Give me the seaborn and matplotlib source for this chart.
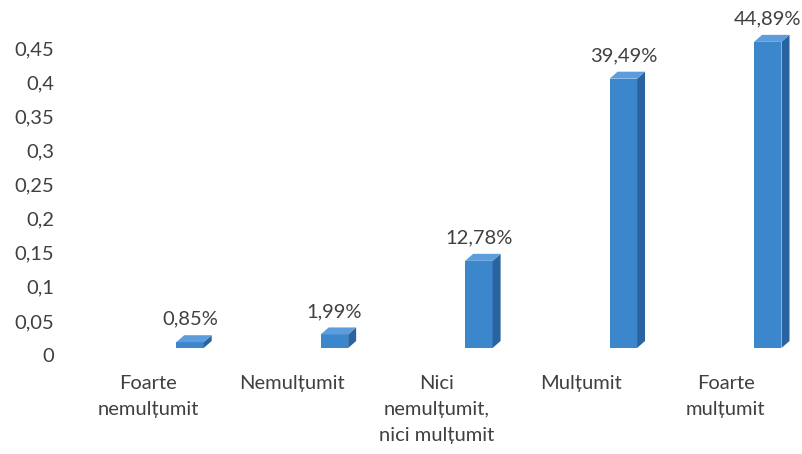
import matplotlib
matplotlib.use("Agg")
import matplotlib.pyplot as plt
import matplotlib.transforms as mtransforms
from matplotlib.patches import Polygon
import seaborn as sns
import pandas as pd

categories = ["Foarte\nnemulțumit", "Nemulțumit", "Nici\nnemulțumit,\nnici mulțumit",
              "Mulțumit", "Foarte\nmulțumit"]
values = [0.0085, 0.0199, 0.1278, 0.3949, 0.4489]
value_labels = ["0,85%", "1,99%", "12,78%", "39,49%", "44,89%"]
yticks = [0, 0.05, 0.1, 0.15, 0.2, 0.25, 0.3, 0.35, 0.4, 0.45]
ytick_labels = ["0", "0,05", "0,1", "0,15", "0,2", "0,25", "0,3", "0,35", "0,4", "0,45"]

sns.set_theme(style="white")
plt.rcParams["font.family"] = ["Lato", "DejaVu Sans"]

FRONT = "#3C86CC"
SIDE = "#2A64A0"
TOP = "#5E9DDB"
TXT = "#404040"
FS = 14.5

fig = plt.figure(figsize=(8.03, 4.54), dpi=100)
ax = fig.add_axes([61.3 / 803, 99 / 454, 736.7 / 803, 0.47 * 682 / 454])

df = pd.DataFrame({"cat": categories, "val": values})
sns.barplot(data=df, x="cat", y="val", color=FRONT, saturation=1, width=0.19, ax=ax)

ax.set_xlim(-0.6, 4.5)
ax.set_ylim(0, 0.47)

# pixel geometry of the pseudo-3D effect
unit_x = 144.5   # px per category
unit_y = 682.0   # px per value unit
shift_px = (42, 7)       # bars sit deeper than the category labels
depth_px = (8, 7)        # depth of the side/top faces
ddx = depth_px[0] / unit_x
ddy = depth_px[1] / unit_y

shift = mtransforms.ScaledTranslation(shift_px[0] / 100, shift_px[1] / 100, fig.dpi_scale_trans)
tr = ax.transData + shift

for i, p in enumerate(ax.patches):
    x0 = p.get_x()
    w = p.get_width()
    h = p.get_height()
    x1 = x0 + w
    p.set_transform(tr)
    p.set_edgecolor("none")
    side = Polygon([(x1, 0), (x1 + ddx, ddy), (x1 + ddx, h + ddy), (x1, h)],
                   closed=True, facecolor=SIDE, edgecolor="none", transform=tr, zorder=3)
    top = Polygon([(x0, h), (x0 + ddx, h + ddy), (x1 + ddx, h + ddy), (x1, h)],
                  closed=True, facecolor=TOP, edgecolor="none", transform=tr, zorder=3)
    ax.add_patch(side)
    ax.add_patch(top)
    p.set_zorder(3)
    ax.annotate(value_labels[i], xy=(x0 + w / 2, h), xycoords=tr,
                xytext=(0, 23 * 0.72), textcoords="offset points",
                ha="center", va="center", fontsize=FS, color=TXT, annotation_clip=False)

ax.set_yticks(yticks)
ax.set_yticklabels(ytick_labels)
ax.set_xlabel("")
ax.set_ylabel("")
for s in ax.spines.values():
    s.set_visible(False)
ax.tick_params(axis="both", length=0, labelsize=FS, labelcolor=TXT)
ax.tick_params(axis="y", pad=5)
ax.tick_params(axis="x", pad=14.5)
for lbl in ax.get_xticklabels():
    lbl.set_linespacing(1.65)

fig.savefig("out.png", dpi=100, facecolor="white")
